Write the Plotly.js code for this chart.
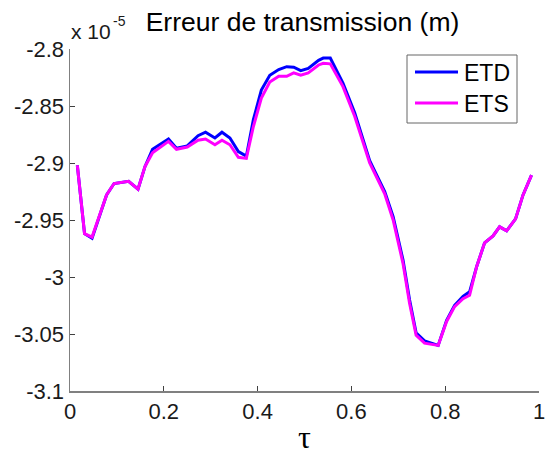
<!DOCTYPE html>
<html>
<head>
<meta charset="utf-8">
<script src="https://cdn.plot.ly/plotly-3.0.1.min.js"></script>
<style>html,body{margin:0;padding:0;background:#fff;}#chart{width:548px;height:455px;}</style>
</head>
<body>
<div id="chart"></div>
<script>
// tau values
const tau = [0.0156, 0.031, 0.047, 0.078, 0.094, 0.125, 0.145, 0.16, 0.176, 0.21, 0.227, 0.25, 0.273, 0.289, 0.309, 0.324, 0.341, 0.359, 0.376, 0.391, 0.408, 0.426, 0.445, 0.462, 0.477, 0.492, 0.508, 0.53, 0.54, 0.555, 0.582, 0.607, 0.639, 0.671, 0.689, 0.71, 0.724, 0.738, 0.756, 0.785, 0.803, 0.82, 0.838, 0.852, 0.867, 0.884, 0.902, 0.916, 0.931, 0.95, 0.966, 0.984];
// values in units of 1e-5 m
const etd = [-2.902, -2.962, -2.966, -2.928, -2.918, -2.916, -2.923, -2.903, -2.888, -2.879, -2.887, -2.885, -2.876, -2.873, -2.878, -2.873, -2.878, -2.890, -2.894, -2.862, -2.836, -2.823, -2.818, -2.8155, -2.816, -2.819, -2.817, -2.810, -2.808, -2.808, -2.830, -2.856, -2.898, -2.925, -2.947, -2.985, -3.020, -3.049, -3.056, -3.060, -3.038, -3.025, -3.017, -3.013, -2.991, -2.970, -2.964, -2.956, -2.9595, -2.949, -2.928, -2.9106];
const ets = [-2.902, -2.962, -2.965, -2.928, -2.918, -2.916, -2.923, -2.903, -2.891, -2.881, -2.888, -2.886, -2.880, -2.879, -2.884, -2.880, -2.884, -2.895, -2.896, -2.868, -2.843, -2.829, -2.824, -2.824, -2.821, -2.823, -2.821, -2.814, -2.8125, -2.813, -2.833, -2.859, -2.900, -2.927, -2.950, -2.988, -3.023, -3.051, -3.058, -3.060, -3.039, -3.026, -3.019, -3.016, -2.991, -2.970, -2.964, -2.956, -2.9595, -2.949, -2.928, -2.9106];
const seriesNames = ["ETD", "ETS"];
const seriesColors = ["#0000ff", "#ff00ff"];
const xTickVals = [0, 0.2, 0.4, 0.6, 0.8, 1];
const xTickText = ["0", "0.2", "0.4", "0.6", "0.8", "1"];
const yTickVals = [-3.1, -3.05, -3, -2.95, -2.9, -2.85, -2.8];
const yTickText = ["-3.1", "-3.05", "-3", "-2.95", "-2.9", "-2.85", "-2.8"];

const F = "Liberation Sans, Arial, sans-serif";
const W = 548, H = 455, ML = 70, MR = 9, MT = 49, MB = 64;
const PW = W - ML - MR, PH = H - MT - MB;
const px = v => (v - ML) / PW;          // pixel -> paper x
const py = v => (H - MB - v) / PH;      // pixel -> paper y

const traces = [
  {x: tau, y: etd, type: "scatter", mode: "lines", name: seriesNames[0], line: {color: seriesColors[0], width: 3}},
  {x: tau, y: ets, type: "scatter", mode: "lines", name: seriesNames[1], line: {color: seriesColors[1], width: 3}}
];

// manual legend (box, line samples, labels)
const shapes = [
  {type: "rect", xref: "paper", yref: "paper", x0: px(407), x1: px(517), y0: py(123), y1: py(55),
   line: {color: "#666", width: 1}, fillcolor: "#fff", layer: "above"}
];
const annotations = [
  {xref: "paper", yref: "paper", x: px(69), y: py(45), xanchor: "left", yanchor: "bottom",
   text: "x 10", showarrow: false, font: {family: F, size: 21, color: "#1a1a1a"}},
  {xref: "paper", yref: "paper", x: px(111), y: py(31), xanchor: "left", yanchor: "bottom",
   text: "-5", showarrow: false, font: {family: F, size: 14, color: "#1a1a1a"}}
];
const legendY = [72, 103];
seriesNames.forEach((n, i) => {
  shapes.push({type: "line", xref: "paper", yref: "paper", x0: px(415), x1: px(458), y0: py(legendY[i]), y1: py(legendY[i]),
    line: {color: seriesColors[i], width: 3}, layer: "above"});
  annotations.push({xref: "paper", yref: "paper", x: px(462), y: py(legendY[i] + 1), xanchor: "left", yanchor: "middle",
    text: n, showarrow: false, font: {family: F, size: 23, color: "#000"}});
});

const layout = {
  width: W, height: H,
  margin: {l: ML, r: MR, t: MT, b: MB, pad: 0},
  paper_bgcolor: "#fff", plot_bgcolor: "#fff",
  font: {family: F, size: 22, color: "#000"},
  showlegend: false,
  title: {text: "Erreur de transmission (m)", font: {family: F, size: 26.5, color: "#000"}, x: 0.552, xanchor: "center", y: 0.953, yanchor: "middle"},
  xaxis: {
    range: [0, 1], tickvals: xTickVals, ticktext: xTickText,
    showline: true, linecolor: "#808080", linewidth: 1.5, mirror: false,
    ticks: "inside", ticklen: 5, tickcolor: "#404040", tickwidth: 1,
    showgrid: false, zeroline: false,
    tickfont: {family: F, size: 22, color: "#1a1a1a"},
    title: {text: "τ", font: {family: "Liberation Serif, serif", size: 32, color: "#000"}, standoff: 5}
  },
  yaxis: {
    range: [-3.1, -2.8], tickvals: yTickVals, ticktext: yTickText,
    showline: true, linecolor: "#808080", linewidth: 1.5, mirror: false,
    ticks: "inside", ticklen: 5, tickcolor: "#404040", tickwidth: 1,
    showgrid: false, zeroline: false,
    tickfont: {family: F, size: 22, color: "#1a1a1a"}
  },
  shapes: shapes,
  annotations: annotations
};
Plotly.newPlot("chart", traces, layout, {displayModeBar: false, staticPlot: true});
</script>
</body>
</html>
